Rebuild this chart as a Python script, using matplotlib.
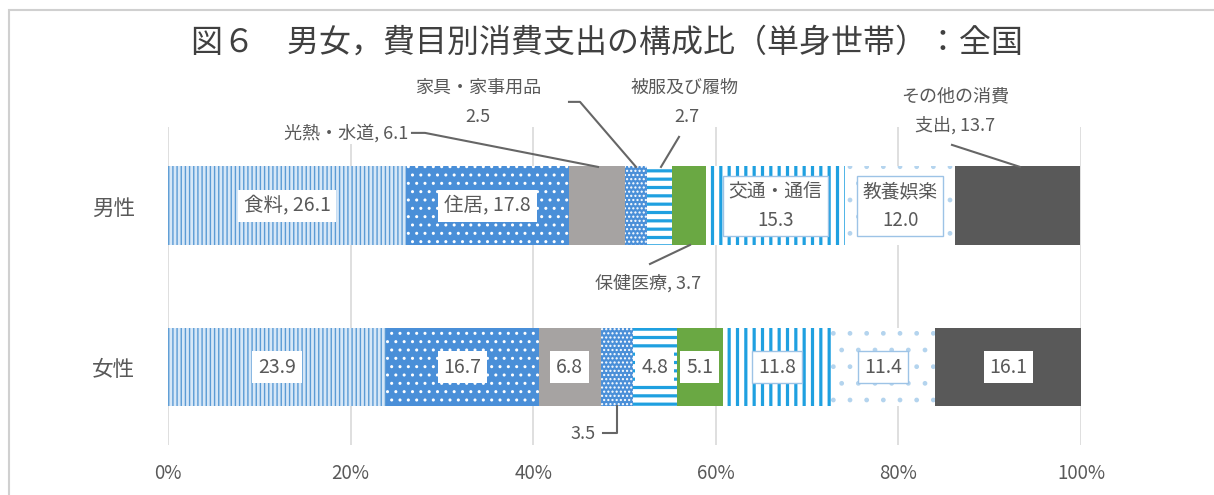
import matplotlib
matplotlib.use("Agg")
import matplotlib.pyplot as plt
from matplotlib.patches import Rectangle

plt.rcParams['font.family'] = ['Noto Sans CJK JP', 'DejaVu Sans']

# data: composition ratio (%) of consumption expenditure, single households
groups = ["男性", "女性"]
items = ["食料", "住居", "光熱・水道", "家具・家事用品", "被服及び履物",
         "保健医療", "交通・通信", "教養娯楽", "その他の消費支出"]
male = [26.1, 17.8, 6.1, 2.5, 2.7, 3.7, 15.3, 12.0, 13.7]
female = [23.9, 16.7, 6.8, 3.5, 4.8, 5.1, 11.8, 11.4, 16.1]
xticks = [0, 20, 40, 60, 80, 100]

# (face, hatch, hatch colour) per item
styles = [
    ("#d6e7f7", "||||", "#5b9bd5"),
    ("#4a8fd8", "..", "#ffffff"),
    ("#a6a3a2", "", "#a6a3a2"),
    ("#4a8fd8", "....", "#ffffff"),
    ("#ffffff", "--", "#1fa0e0"),
    ("#6aa843", "", "#6aa843"),
    ("#ffffff", "||", "#1fa0e0"),
    ("#ffffff", ".", "#b4d4ee"),
    ("#595959", "", "#595959"),
]

txt = "#595959"
line_c = "#666666"

fig = plt.figure(figsize=(12.14, 4.95), dpi=100)
ax = fig.add_axes([168 / 1214, 50 / 495, (1081 - 168) / 1214, 318 / 495])

# outer frame of the picture
fig.patches.append(Rectangle((9 / 1214, -0.01), 1.1, (495 - 10) / 495 + 0.01,
                             transform=fig.transFigure, fill=False,
                             ec="#d0d0d0", lw=1.5))

fig.text(0.5, 1 - 43 / 495, "図６　男女，費目別消費支出の構成比（単身世帯）：全国",
         ha="center", va="center", fontsize=23, color="#404040")

bh = 0.49
for gi, vals in enumerate([male, female]):
    left = 0
    for i, v in enumerate(vals):
        fc, hatch, hc = styles[i]
        b = ax.barh(gi, v, left=left, height=bh, color=fc, edgecolor=hc,
                    hatch=hatch if hatch else None, linewidth=0, zorder=2)
        if hatch in ("--", "||"):
            try:
                b[0].set_hatch_linewidth(2.3)
            except AttributeError:
                pass
        left += v

ax.set_ylim(1.484, -0.49)
ax.set_xlim(0, 100)
ax.set_yticks([0, 1])
ax.set_yticklabels(groups, fontsize=15.5, color=txt)
ax.tick_params(axis="y", length=0, pad=24)
ax.set_xticks(xticks)
ax.set_xticklabels([f"{t}%" for t in xticks], fontsize=13.5, color=txt)
ax.tick_params(axis="x", length=0, pad=13)
for s in ax.spines.values():
    s.set_visible(False)
ax.grid(axis="x", color="#d9d9d9", lw=1.2, zorder=0)
ax.set_axisbelow(True)


def mid(vals, i):
    return sum(vals[:i]) + vals[i] / 2


box = dict(boxstyle="square,pad=0.3", fc="white", ec="none")
boxb = dict(boxstyle="square,pad=0.3", fc="white", ec="#9dc3e6", lw=1)

# labels inside male bar
ax.text(mid(male, 0), 0, f"{items[0]}, {male[0]}", ha="center", va="center",
        fontsize=14, color=txt, bbox=box, zorder=4)
ax.text(mid(male, 1), 0, f"{items[1]}, {male[1]}", ha="center", va="center",
        fontsize=14, color=txt, bbox=box, zorder=4)
ax.text(mid(male, 6), 0, f"{items[6]}\n{male[6]}", ha="center", va="center",
        fontsize=13.5, color=txt, bbox=boxb, zorder=4, linespacing=1.45)
ax.text(mid(male, 7), 0, f"{items[7]}\n{male[7]:.1f}", ha="center", va="center",
        fontsize=13.5, color=txt, bbox=boxb, zorder=4, linespacing=1.45)

# labels inside female bar
for i in [0, 1, 2, 4, 5, 6, 7, 8]:
    ax.text(mid(female, i), 1, f"{female[i]}", ha="center", va="center",
            fontsize=14, color=txt, bbox=boxb if i in (6, 7) else box, zorder=4)


# pixel position of the reference -> data coords
def px(x, y):
    return (x - 168) / 9.13, (y - 206) / 161


lab = dict(fontsize=13, color=txt, bbox=dict(fc="white", ec="none", pad=1),
           zorder=4)

tx, ty = px(408, 133)
ax.text(tx, ty, f"{items[2]}, {male[2]}", ha="right", va="center", **lab)
ax.plot(*zip(px(412, 133), px(425, 133), px(598, 167)), color=line_c, lw=1.5,
        zorder=3, clip_on=False)

tx, ty = px(478, 88)
ax.text(tx, ty, items[3], ha="center", va="center", **lab)
tx, ty = px(478, 117)
ax.text(tx, ty, f"{male[3]}", ha="center", va="center", **lab)
ax.plot(*zip(px(569, 102), px(580, 102), px(636, 167)), color=line_c, lw=1.5,
        zorder=3, clip_on=False)

tx, ty = px(685, 88)
ax.text(tx, ty, items[4], ha="center", va="center", **lab)
tx, ty = px(687, 117)
ax.text(tx, ty, f"{male[4]}", ha="center", va="center", **lab)
ax.plot(*zip(px(679, 137), px(661, 167)), color=line_c, lw=1.5, zorder=3,
        clip_on=False)

tx, ty = px(648, 283)
ax.text(tx, ty, f"{items[5]}, {male[5]}", ha="center", va="center", **lab)
ax.plot(*zip(px(650, 264), px(690, 245)), color=line_c, lw=1.5, zorder=3)

tx, ty = px(955, 97)
ax.text(tx, ty, "その他の消費", ha="center", va="center", **lab)
tx, ty = px(955, 126)
ax.text(tx, ty, f"支出, {male[8]}", ha="center", va="center", **lab)
ax.plot(*zip(px(952, 145), px(1020, 167)), color=line_c, lw=1.5, zorder=3)

# female 3.5
fx = mid(female, 3)
ax.text(px(596, 0)[0], 1 + (434 - 367) / 161, f"{female[3]}", ha="right",
        va="center", **lab)
ax.plot([px(603, 0)[0], fx, fx], [1 + 66 / 161, 1 + 66 / 161, 1 + bh / 2],
        color=line_c, lw=1.5, zorder=3)

fig.savefig("out.png", dpi=100)
